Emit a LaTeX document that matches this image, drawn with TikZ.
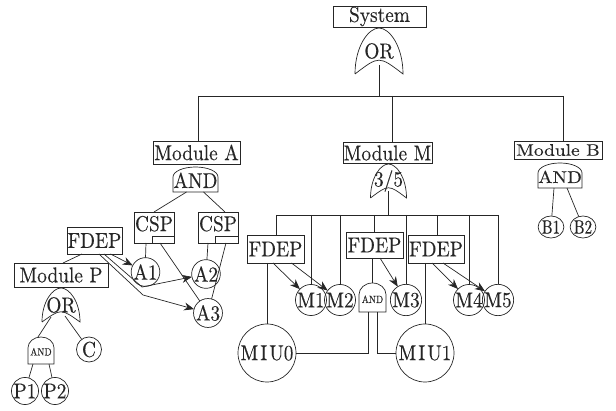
\documentclass[tikz,border=0pt]{standalone}
\usepackage{fontspec}
\newfontface\diagfont{lmroman10-regular.otf}[FakeStretch=0.9,FakeBold=0.25]
\usetikzlibrary{arrows.meta,shapes.geometric,calc}
\tikzset{
  lbl/.style={font={\diagfont\fontsize{21.5}{22}\selectfont}, inner sep=0pt, outer sep=0pt},
  box/.style={lbl, draw, rectangle},
  gatenode/.style={lbl, rectangle, inner sep=0pt},
  smalltxt/.style={font={\diagfont\fontsize{10.5}{11}\selectfont}},
  evt/.style={lbl, draw, circle, minimum size=#1},
  evt/.default=25pt,
  arr/.style={-{Stealth[length=10pt,width=8pt]}},
}
\newcommand\ORoutline[1]{%
 \draw let \p1=(#1.south west), \p2=(#1.north east), \n1={\x2-\x1}, \n2={\y2-\y1} in
  (\x1,\y1) .. controls (\x1,{\y1+0.6*\n2}) and ({\x1+0.28*\n1},\y2) .. ({\x1+0.5*\n1},\y2)
  .. controls ({\x2-0.28*\n1},\y2) and (\x2,{\y1+0.6*\n2}) .. (\x2,\y1)
  .. controls ({\x1+0.5*\n1},{\y1+0.4*\n2}) .. (\x1,\y1);}
\newcommand\ANDoutline[1]{%
 \draw let \p1=(#1.south west), \p2=(#1.north east), \n1={\x2-\x1}, \n2={\y2-\y1} in
  (\x1,\y1) -- (\x1,{\y1+0.6*\n2}) .. controls (\x1,{\y1+0.8208*\n2}) and ({\x1+0.224*\n1},\y2) .. ({\x1+0.5*\n1},\y2)
  .. controls ({\x2-0.224*\n1},\y2) and (\x2,{\y1+0.8208*\n2}) .. (\x2,{\y1+0.6*\n2}) -- (\x2,\y1) -- cycle;}
\begin{document}
\begin{tikzpicture}[x=1pt,y=-1pt,line width=0.7pt,color=black!85]
\useasboundingbox (0,0) rectangle (616,411);
% top
\node[box, minimum width=93pt, minimum height=21pt] (sys) at (379.5,16.5) {System};
\node[gatenode, minimum width=48pt, minimum height=46pt] (or1) at (379,51) {OR};
\ORoutline{or1}
\coordinate (busO) at (379,96);
\coordinate (busL) at (198,96);
\coordinate (busR) at (563,96);
\coordinate (busM) at (392,96);
\draw ([yshift=9pt]or1.south) -- (busO);
\draw (busL) -- (busR);
% modules
\node[box, minimum width=87pt, minimum height=23pt] (modA) at (196.5,152.5) {Module A};
\node[box, minimum width=89pt, minimum height=21pt] (modM) at (387.5,153) {Module M};
\node[box, minimum width=88pt, minimum height=18pt] (modB) at (558,150) {\scalebox{1}[0.78]{Module B}};
\draw (busL) -- (busL |- modA.north);
\draw (busM) -- (busM |- modM.north);
\draw (busR) -- (busR |- modB.north);
% module A
\node[gatenode, minimum width=45pt, minimum height=25pt, text height=17pt, text depth=0pt] (andA) at (195.5,179.5) {AND};
\ANDoutline{andA}
\node[box, minimum width=40pt, minimum height=31pt, text depth=8pt] (cspL) at (154,227.5) {CSP};
\node[box, minimum width=40pt, minimum height=31pt, text depth=8pt] (cspR) at (218,227.5) {CSP};
\draw ([xshift=-22pt]cspL.south east) |- ([yshift=7pt]cspL.south east);
\draw ([xshift=-23pt]cspR.south east) |- ([yshift=7pt]cspR.south east);
\draw ([xshift=-9pt]andA.south) -- (cspL.north);
\draw ([xshift=8pt]andA.south) -- ([xshift=7pt]cspR.north);
\node[evt] (a1) at (145.5,272) {A1};
\node[evt] (a2) at (206,274) {A2};
\node[evt=26pt] (a3) at (208,313) {A3};
\draw ([xshift=-8pt]cspL.south) -- (a1.north);
\draw ([xshift=6pt]cspL.south) -- (a3);
\draw ([xshift=-10pt]cspR.south) -- (a2);
\draw ([xshift=8pt]cspR.south) -- (a3);
% FDEP for module P
\node[box, minimum width=55pt, minimum height=27pt] (fdepA) at (94.5,240.5) {FDEP};
\coordinate (bA2) at (142,287);
\coordinate (bA3) at (143,295);
\draw[arr] ([xshift=16pt]fdepA.south) -- (a1);
\draw[arr] ([xshift=9.5pt]fdepA.south) -- (bA2) -- (a2);
\draw[arr] ([xshift=4.5pt]fdepA.south) -- (bA3) -- (a3);
% module P
\node[box, minimum width=94pt, minimum height=24pt] (modP) at (61,275) {Module P};
\draw ([xshift=-12.5pt]fdepA.south) -- ([xshift=2pt]modP.north);
\node[gatenode, minimum width=38pt, minimum height=34pt] (orP) at (61,305) {OR};
\ORoutline{orP}
\node[gatenode, smalltxt, minimum width=26pt, minimum height=27pt, text height=10pt, text depth=0pt] (andP) at (41,350.5) {AND};
\ANDoutline{andP}
\node[evt] (c) at (89,349.5) {C};
\node[evt=26pt] (p1) at (25,391) {P1};
\node[evt=26pt] (p2) at (55,391) {P2};
\draw ([xshift=-10pt,yshift=5pt]orP.south) -- ([xshift=-3pt]andP.north);
\draw ([xshift=4pt,yshift=6pt]orP.south) -- (c);
\draw ([xshift=-8pt]andP.south) -- (p1);
\draw ([xshift=8pt]andP.south) -- (p2);
% module M
\node[gatenode, minimum width=36pt, minimum height=34pt] (vote) at (388.5,181) {3/5};
\ORoutline{vote}
\coordinate (b2L) at (276,215);
\coordinate (b2R) at (498,215);
\draw ([yshift=7pt]vote.south) -- (vote.south |- b2L);
\draw (b2L) -- (b2R);
\node[box, minimum width=57pt, minimum height=28pt] (fdep1) at (275.5,249) {FDEP};
\node[box, minimum width=57pt, minimum height=26pt] (fdep2) at (374.5,245) {FDEP};
\node[box, minimum width=56pt, minimum height=28pt] (fdep3) at (436,249) {FDEP};
\node[evt=26pt] (m1) at (311,300) {M1};
\node[evt=26pt] (m2) at (340,300) {M2};
\node[evt=26pt] (m3) at (406,300) {M3};
\node[evt=26pt] (m4) at (469,300) {M4};
\node[evt=26pt] (m5) at (498,300) {M5};
\node[gatenode, smalltxt, minimum width=27pt, minimum height=29pt, text height=11pt, text depth=0pt] (andM) at (372.5,297.5) {AND};
\ANDoutline{andM}
\node[evt=58pt] (miu0) at (267,353) {M\kern2pt I\kern2pt U0};
\node[evt=58pt] (miu1) at (425,353) {M\kern2pt I\kern2pt U1};
\coordinate (v1) at (276,215);
\coordinate (v2) at (311,215);
\coordinate (v3) at (340,215);
\coordinate (v4) at (374,215);
\coordinate (v5) at (406,215);
\coordinate (v6) at (437,215);
\coordinate (v7) at (469,215);
\coordinate (v8) at (498,215);
\draw (v1) -- (v1 |- fdep1.north);
\draw (v2) -- (m1.north);
\draw (v3) -- (m2.north);
\draw (v4) -- (v4 |- fdep2.north);
\draw (v5) -- (m3.north);
\draw (v6) -- (v6 |- fdep3.north);
\draw (v7) -- (m4.north);
\draw (v8) -- (m5.north);
\draw (miu0.north |- fdep1.south) -- (miu0.north);
\draw[arr] ([xshift=-2.5pt]fdep1.south) -- (m1);
\draw[arr] ([xshift=16pt]fdep1.south) -- (m2);
\draw (andM.north |- fdep2.south) -- (andM.north);
\draw[arr] ([xshift=5.5pt]fdep2.south) -- (m3);
\draw (miu1.north |- fdep3.south) -- (miu1.north);
\draw[arr] ([xshift=-4pt]fdep3.south) -- (m4);
\draw[arr] ([xshift=7pt]fdep3.south) -- (m5);
\draw ([xshift=-4.5pt]andM.south) |- (miu0.east);
\draw ([xshift=4.5pt]andM.south) |- (miu1.west);
% module B
\node[gatenode, minimum width=44pt, minimum height=25pt, text height=15pt, text depth=0pt] (andB) at (560,175.5) {\scalebox{1}[0.8]{AND}};
\ANDoutline{andB}
\node[lbl, draw, ellipse, minimum width=21pt, minimum height=22pt] (b1) at (551,227) {\scalebox{0.78}[0.9]{B1}};
\node[lbl, draw, ellipse, minimum width=21pt, minimum height=22pt] (b2) at (583,227) {\scalebox{0.78}[0.9]{B2}};
\draw ([xshift=-6pt]andB.south) -- (b1);
\draw ([xshift=7pt]andB.south) -- (b2);
\end{tikzpicture}
\end{document}
